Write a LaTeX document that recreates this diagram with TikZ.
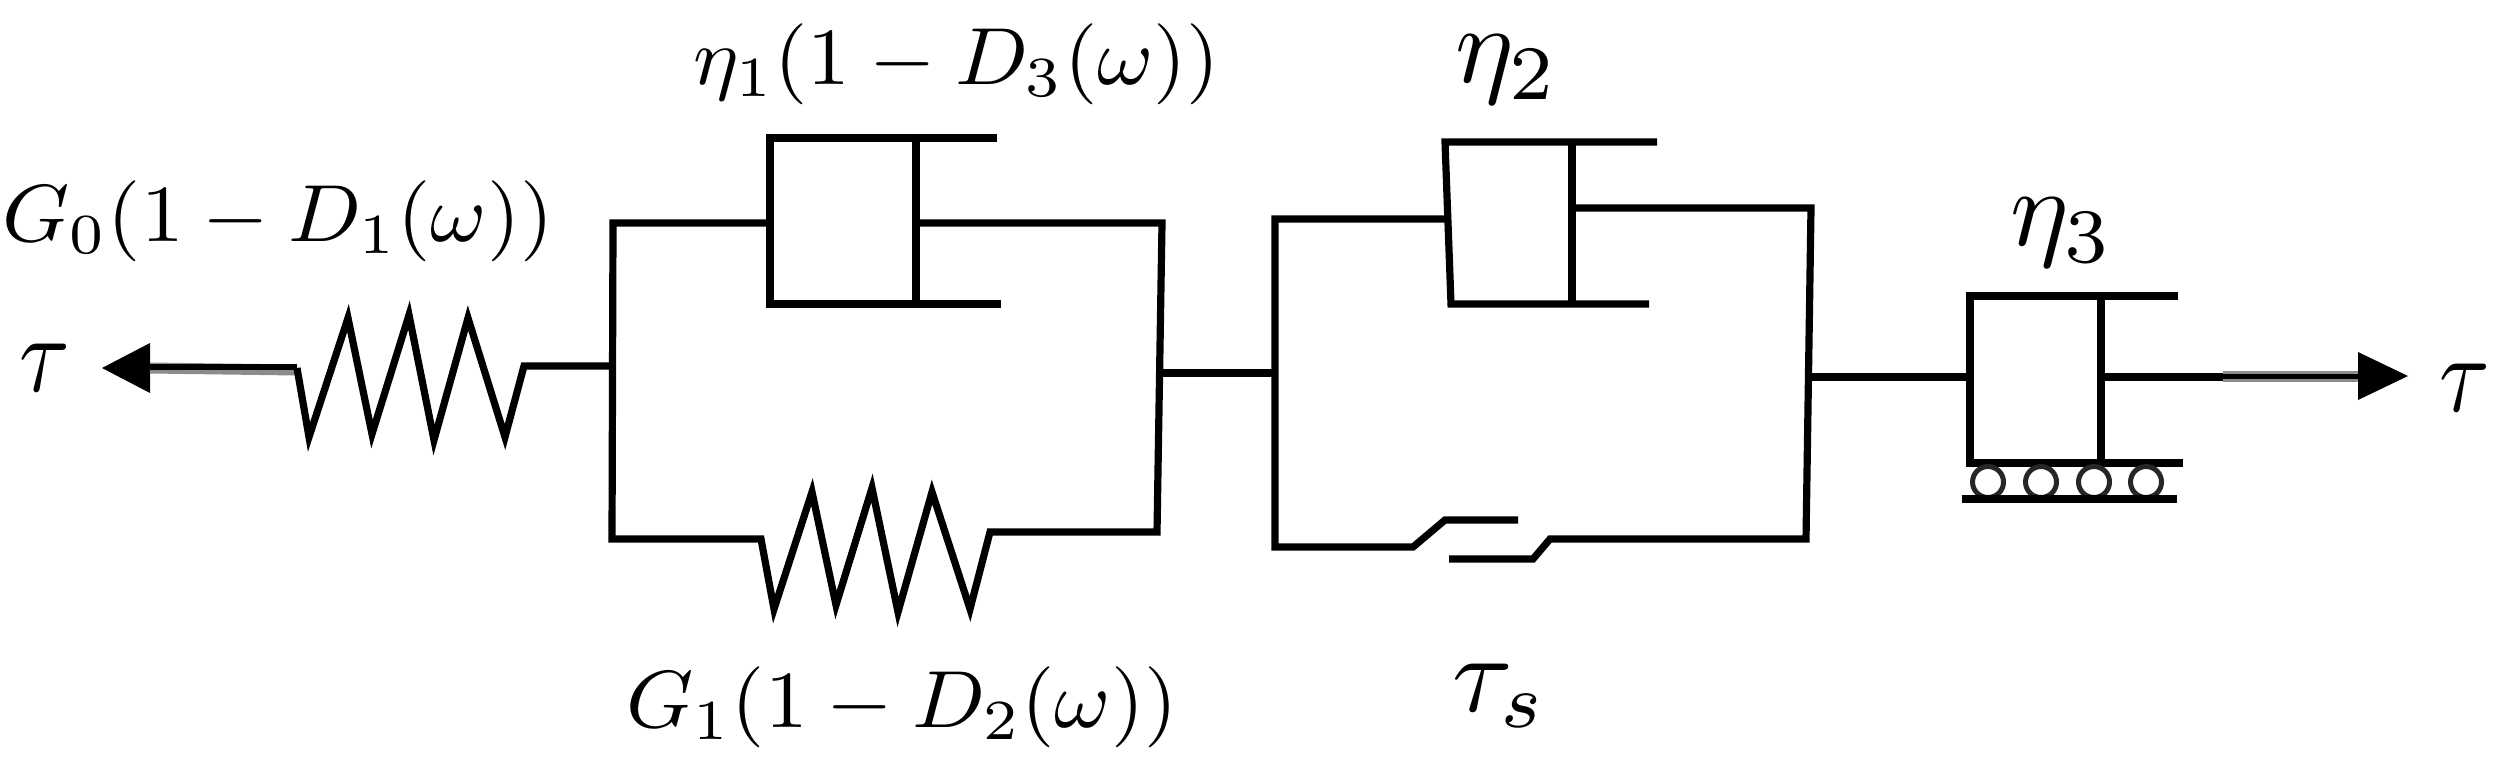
\documentclass[tikz,border=0pt]{standalone}
\usepackage{amsmath}
\begin{document}
\begin{tikzpicture}[x=1pt,y=-1pt,
  wire/.style={line width=7.2pt,line join=miter,miter limit=12,line cap=butt},
  lab/.style={inner sep=0pt,outer sep=0pt,anchor=center},
  tip/.style={fill=black,draw=none}]
\useasboundingbox (0,0) rectangle (2496,761);
% --- named points
\coordinate (ArrL) at (102,368); \coordinate (ArrLt) at (150,343); \coordinate (ArrLb) at (150,393);
\coordinate (ArrLs) at (150,368);
\coordinate (S1a) at (297,368);
\coordinate (S1b) at (524,366);
\coordinate (J1) at (613,366);
\coordinate (J1t) at (613,223);
\coordinate (J1b) at (612,539);
\coordinate (D1l) at (770,223);
\coordinate (D1r) at (916,223);
\coordinate (J2t) at (1162,223);
\coordinate (J2b) at (1157,532);
\coordinate (J2) at (1159,373);
\coordinate (S2a) at (761,539);
\coordinate (S2b) at (990,532);
\coordinate (J3) at (1275,373);
\coordinate (J3t) at (1275,219);
\coordinate (J3b) at (1275,547);
\coordinate (D2l) at (1448,219);
\coordinate (D2r) at (1572,208);
\coordinate (J4t) at (1811,208);
\coordinate (J4b) at (1806,539);
\coordinate (J4) at (1808,377);
\coordinate (D3l) at (1970,377);
\coordinate (D3r) at (2101,377);
\coordinate (ArrRs) at (2358,376);
\coordinate (ArrRt) at (2358,352); \coordinate (ArrRb) at (2358,400);
\coordinate (ArrR) at (2408,376);
% --- left force arrow and spring G0
\fill[tip] (ArrL) -- (ArrLt) -- (ArrLb) -- cycle;
\draw[line width=11pt,black!45] (ArrLs) -- ([yshift=-2pt]S1a);
\draw[wire,line width=6pt] ([yshift=1pt]ArrLs) -- ([yshift=1pt]S1a);
\draw[wire] (S1a) -- (309,437) -- (348,318) -- (372,434) -- (409,315) -- (434,440) -- (468,318) -- (505,437) -- (S1b) -- (J1);
% --- first parallel group
\draw[wire] (D1l) -- (J1t) -- (J1b) -- (S2a)
  -- (774,609) -- (812,492) -- (836,605) -- (872,488) -- (898,612) -- (932,492) -- (970,609) -- (S2b) -- (J2b) -- (J2t) -- (D1r);
\draw[wire] (997,138) -- (770,138) -- (770,304) -- (1001,304);
\draw[wire] (916,138) -- (916,304);
% --- link
\draw[wire] (J2) -- (J3);
% --- second parallel group
\draw[wire] (D2l) -- (J3t) -- (J3b) -- (1413,547) -- (1445,520) -- (1518,520);
\draw[wire] (1449,559) -- (1533,559) -- (1550,539) -- (J4b) -- (J4t) -- (D2r);
\draw[wire] (1657,142) -- (1445,142) -- (1451,304) -- (1649,304);
\draw[wire] (1572,142) -- (1572,304);
% --- link and third dashpot
\draw[wire] (J4) -- (D3l);
\draw[wire] (2178,296) -- (1970,296) -- (1970,463) -- (2183,463);
\draw[wire] (2101,296) -- (2101,463);
\draw[wire] (D3r) -- (2223,377);
\draw[line width=11pt,black!45] (2223,376) -- (ArrRs);
\draw[wire,line width=5pt] (2223,376) -- (ArrRs);
\fill[tip] (ArrR) -- (ArrRt) -- (ArrRb) -- cycle;
% --- rollers and ground
\foreach \cx in {1988,2041,2094,2146}{
  \draw[line width=5pt,black!85] (\cx,482) circle (15.5pt);
}
\draw[wire] (1962,499) -- (2177,499);
% --- labels
\node[lab,xscale=8.55,yscale=8.1] (LG0) at (278,221) {$G_0(1-D_1(\omega))$};
\node[lab,xscale=8.55,yscale=8.1] (LE1) at (957,64) {$\eta_1(1-D_3(\omega))$};
\node[lab,xscale=8.55,yscale=8.1] (LG1) at (902,707) {$G_1(1-D_2(\omega))$};
\node[lab,scale=11] (LE2) at (1507,70) {$\eta_2$};
\node[lab,scale=11] (LE3) at (2062,233) {$\eta_3$};
\node[lab,scale=11] (LTs) at (1500,696) {$\tau_s$};
\node[lab,xscale=9.2,yscale=11] (LTl) at (45,368) {$\tau$};
\node[lab,xscale=9.2,yscale=11] (LTr) at (2465,388) {$\tau$};
\end{tikzpicture}
\end{document}
